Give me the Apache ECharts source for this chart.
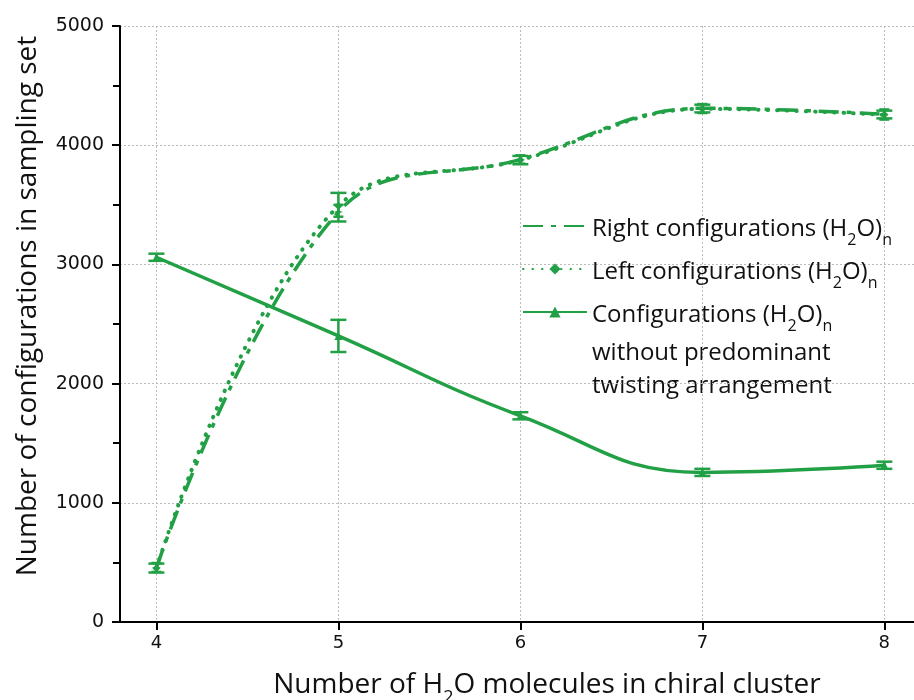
<!DOCTYPE html>
<html>
<head>
<meta charset="utf-8">
<script src="https://cdn.jsdelivr.net/npm/echarts@6/dist/echarts.min.js"></script>
<style>
  html, body { margin: 0; padding: 0; background: #fff; }
  #chart { width: 914px; height: 700px; }
</style>
</head>
<body>
<div id="chart"></div>
<script>
// Cluster sizes (number of H2O molecules)
const clusterSizes = [4, 5, 6, 7, 8];

// Counts of configurations in the sampling set
const rightCounts = [455, 3440, 3880, 4310, 4260];
const leftCounts = [450, 3490, 3875, 4305, 4255];
const neutralCounts = [3060, 2400, 1730, 1255, 1315];

// Error ranges [low, high] per cluster size
const rightErr = [[420, 495], [3400, 3500], [3845, 3915], [4270, 4345], [4215, 4300]];
const leftErr = [[415, 490], [3360, 3600], [3840, 3910], [4275, 4340], [4225, 4290]];
const neutralErr = [[3030, 3090], [2265, 2535], [1700, 1760], [1225, 1285], [1285, 1345]];

const yTicks = [0, 1000, 2000, 3000, 4000, 5000];

const GREEN = '#22a045';
const TEXT_FONT = 'Open Sans';

const pairs = (vals) => clusterSizes.map((x, i) => [x, vals[i]]);
const errPairs = (errs) => clusterSizes.map((x, i) => [x, errs[i][0], errs[i][1]]);

const starPath = 'path://M0,-10 L2.5,-2.5 L10,0 L2.5,2.5 L0,10 L-2.5,2.5 L-10,0 L-2.5,-2.5 Z';

function errorBarSeries(name, errs, capHalf) {
  return {
    type: 'custom',
    name: name + ' error',
    data: errPairs(errs),
    z: 4,
    silent: true,
    renderItem: function (params, api) {
      const x = api.value(0);
      const lo = api.coord([x, api.value(1)]);
      const hi = api.coord([x, api.value(2)]);
      const style = { stroke: GREEN, lineWidth: 2.5, fill: null };
      return {
        type: 'group',
        children: [
          { type: 'line', shape: { x1: lo[0], y1: lo[1], x2: hi[0], y2: hi[1] }, style: style },
          { type: 'line', shape: { x1: lo[0] - capHalf, y1: lo[1], x2: lo[0] + capHalf, y2: lo[1] }, style: style },
          { type: 'line', shape: { x1: hi[0] - capHalf, y1: hi[1], x2: hi[0] + capHalf, y2: hi[1] }, style: style }
        ]
      };
    }
  };
}

const legendRich = {
  n: { fontFamily: TEXT_FONT, fontSize: 24, color: '#111', lineHeight: 30, verticalAlign: 'bottom' },
  s: { fontFamily: TEXT_FONT, fontSize: 16, color: '#111', lineHeight: 30, verticalAlign: 'bottom', padding: [0, 0, -7, 0] }
};

const legendNames = {
  'Right': '{n|Right configurations (H}{s|2}{n|O)}{s|n}',
  'Left': '{n|Left configurations (H}{s|2}{n|O)}{s|n}',
  'None': '{n|Configurations (H}{s|2}{n|O)}{s|n}'
};

const chart = echarts.init(document.getElementById('chart'), null, { renderer: 'canvas' });

chart.setOption({
  animation: false,
  backgroundColor: '#fff',
  grid: { left: 120, top: 26, right: 0, bottom: 78, containLabel: false, outerBoundsMode: 'none' },
  xAxis: {
    type: 'value',
    min: 3.8,
    max: 8.163,
    name: '{n|Number of H}{s|2}{n|O molecules in chiral cluster}',
    nameLocation: 'middle',
    nameGap: 43,
    nameTextStyle: {
      padding: [0, 0, 0, 60],
      rich: {
        n: { fontFamily: TEXT_FONT, fontSize: 28, color: '#111', lineHeight: 34, verticalAlign: 'bottom' },
        s: { fontFamily: TEXT_FONT, fontSize: 18, color: '#111', lineHeight: 34, verticalAlign: 'bottom', padding: [0, 0, -8, 0] }
      }
    },
    axisLine: { show: true, onZero: false, lineStyle: { color: '#000', width: 2 } },
    axisTick: { show: true, inside: false, length: 8, lineStyle: { color: '#000', width: 2 }, customValues: clusterSizes },
    axisLabel: { customValues: clusterSizes, margin: 12, fontFamily: 'DejaVu Sans', fontSize: 18, color: '#111' },
    splitLine: { show: true, lineStyle: { color: '#bbb', type: [2, 2], width: 1 } }
  },
  yAxis: {
    type: 'value',
    min: yTicks[0],
    max: yTicks[yTicks.length - 1],
    interval: 1000,
    name: 'Number of configurations in sampling set',
    nameLocation: 'middle',
    nameGap: 78,
    nameTextStyle: { fontFamily: TEXT_FONT, fontSize: 28, color: '#111', padding: [0, 0, 0, 36] },
    axisLine: { show: true, lineStyle: { color: '#000', width: 2 } },
    axisTick: { show: true, inside: false, length: 8, lineStyle: { color: '#000', width: 2 } },
    minorTick: { show: true, splitNumber: 2, length: 7, lineStyle: { color: '#000', width: 2 } },
    axisLabel: { margin: 16, fontFamily: 'DejaVu Sans', fontSize: 19, color: '#111', formatter: (v) => String(v) },
    splitLine: { show: true, lineStyle: { color: '#bbb', type: [2, 2], width: 1 } }
  },
  legend: {
    orient: 'vertical',
    left: 517,
    top: 212,
    itemWidth: 64,
    itemHeight: 14,
    itemGap: 12,
    data: [{ name: 'Right', itemStyle: { opacity: 0 } }, 'Left', 'None'],
    formatter: (name) => legendNames[name],
    textStyle: { rich: legendRich }
  },
  graphic: [{
    type: 'text',
    left: 592,
    top: 337,
    style: {
      text: 'without predominant\ntwisting arrangement',
      font: '24px "Open Sans"',
      fill: '#111',
      lineHeight: 33
    }
  }],
  series: [
    {
      name: 'Right',
      type: 'line',
      data: pairs(rightCounts),
      smooth: 0.4,
      symbol: starPath,
      symbolSize: 9,
      showSymbol: true,
      itemStyle: { color: GREEN },
      lineStyle: { color: GREEN, width: 3.5, type: [20, 8, 5, 8] },
      z: 3
    },
    {
      name: 'Left',
      type: 'line',
      data: pairs(leftCounts),
      smooth: 0.4,
      symbol: 'diamond',
      symbolSize: 8,
      itemStyle: { color: GREEN },
      lineStyle: { color: GREEN, width: 4, type: [0.5, 9], cap: 'round' },
      z: 3
    },
    {
      name: 'None',
      type: 'line',
      data: pairs(neutralCounts),
      smooth: 0.45,
      symbol: 'triangle',
      symbolSize: 8,
      itemStyle: { color: GREEN },
      lineStyle: { color: GREEN, width: 3.5 },
      z: 3
    },
    errorBarSeries('Right', rightErr, 5),
    errorBarSeries('Left', leftErr, 8),
    errorBarSeries('None', neutralErr, 8)
  ]
});
</script>
</body>
</html>
